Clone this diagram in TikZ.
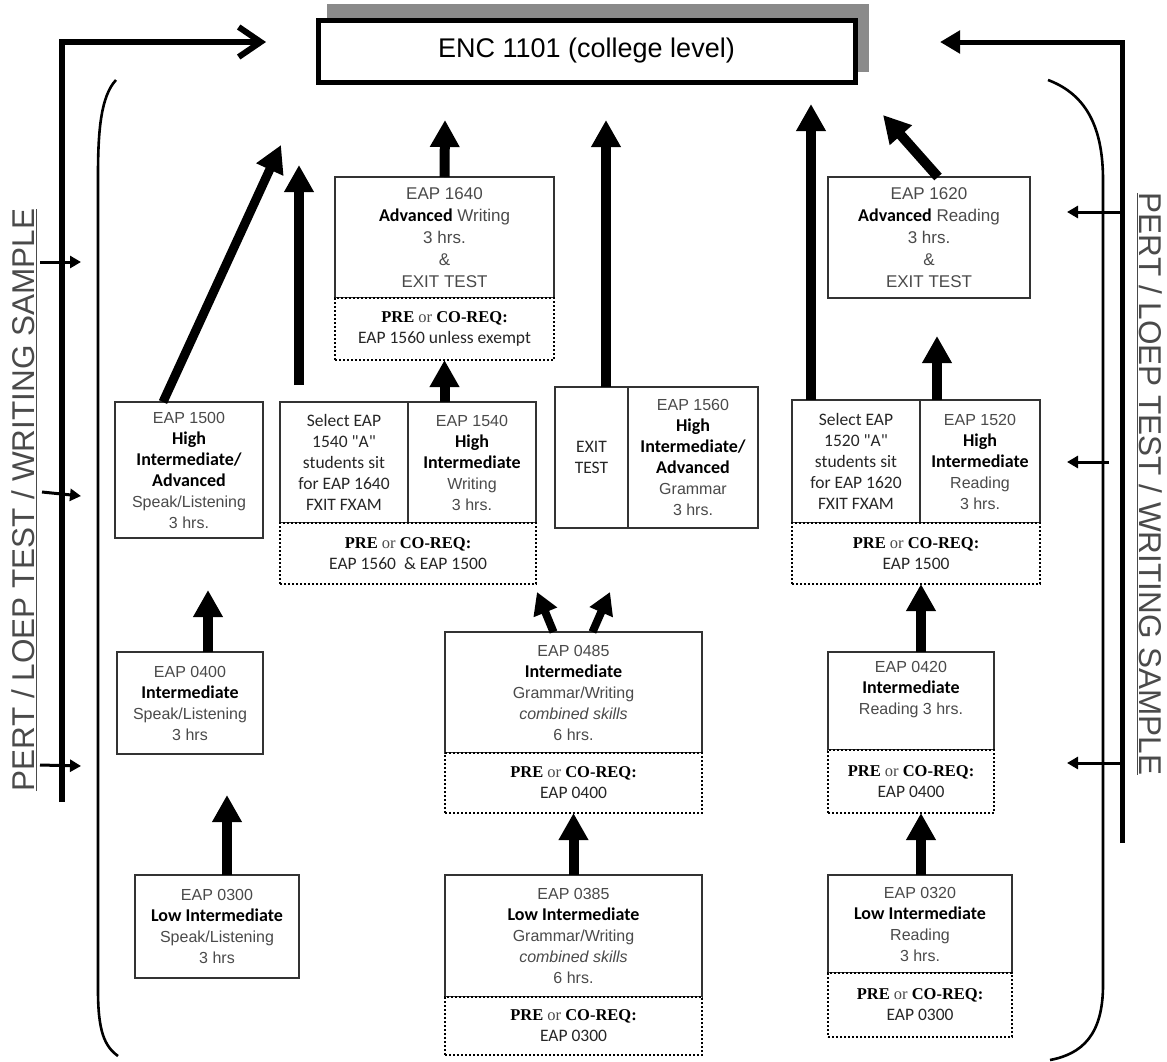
\documentclass[tikz,border=0pt]{standalone}
\usepackage{fontspec}
\setmainfont{Liberation Sans}
\newfontfamily\calib{Carlito}
\newfontfamily\cambr{Liberation Serif}
\usetikzlibrary{arrows.meta}
\definecolor{txt}{HTML}{4A4A4A}
\definecolor{bord}{HTML}{333333}
\definecolor{shadowgray}{HTML}{8A8A8A}
\newcommand\hb[1]{{\calib\bfseries\fontsize{18}{21}\selectfont\color{black}#1}}
\newcommand\cb[1]{{\calib\fontsize{17.5}{21}\selectfont\color{black!85}#1}}
\newcommand\preco{{\cambr\fontsize{16.5}{21}\selectfont\color{black}\textbf{PRE} {\color{txt}or} \textbf{CO-REQ:}}}
\begin{document}
\begin{tikzpicture}[x=1pt,y=-1pt,
  box/.style={draw=bord, line width=1.3pt, inner sep=0pt, outer sep=0pt, align=center, text=txt, fill=white, font=\fontsize{16}{21}\selectfont},
  bigbox/.style={box, font=\fontsize{17}{22}\selectfont},
  dbox/.style={box, draw=black, line width=2pt, dash pattern=on 2pt off 2pt},
  bigarr/.style={line width=10pt, -{Triangle[length=27pt,width=28pt]}},
  midarr/.style={line width=8pt, -{Triangle[length=22pt,width=24pt]}},
  smallarr/.style={line width=3pt, -{Triangle[length=11pt,width=12pt]}},
  bracket/.style={line width=2.6pt},
  side/.style={text=txt, font=\fontsize{31.5}{36}\selectfont, inner sep=0pt}
]
\useasboundingbox (0,0) rectangle (1167,1061);

% ---------- ENC box ----------
\fill[shadowgray] (327,4) rectangle (869,72);
\node[draw=black, line width=5pt, fill=white, minimum width=537pt, minimum height=62pt, inner sep=0pt,
      font=\fontsize{27}{30}\selectfont] (enc) at (586.5,51) {ENC 1101 (college level)};

% ---------- left column ----------
\node[box, minimum width=148pt, minimum height=136pt] (n1500) at (189,470)
  {EAP 1500\\\hb{High}\\\hb{Intermediate/}\\\hb{Advanced}\\Speak/Listening\\3 hrs.};
\node[box, minimum width=146pt, minimum height=102pt] (n0400) at (190,703)
  {EAP 0400\\\hb{Intermediate}\\Speak/Listening\\3 hrs};
\node[box, minimum width=164pt, minimum height=103pt] (n0300) at (217,926.5)
  {EAP 0300\\\hb{Low Intermediate}\\Speak/Listening\\3 hrs};

% ---------- EAP 1540 ----------
\node[box, minimum width=128pt, minimum height=121pt] (n1540L) at (344,462.5)
  {\cb{Select EAP}\\\cb{1540 "A"}\\\cb{students sit}\\\cb{for EAP 1640}\\\cb{FXIT FXAM}};
\node[box, minimum width=128pt, minimum height=121pt] (n1540R) at (472,462.5)
  {EAP 1540\\\hb{High}\\\hb{Intermediate}\\Writing\\3 hrs.};
\node[dbox, minimum width=256pt, minimum height=61pt] (n1540P) at (408,553.5)
  {\preco\\\cb{EAP 1560\ \ \& EAP 1500}};

% ---------- EAP 1640 ----------
\node[bigbox, minimum width=219pt, minimum height=121pt] (n1640) at (444.5,237.5)
  {EAP 1640\\\hb{Advanced} Writing\\3 hrs.\\\&\\EXIT TEST};
\node[dbox, minimum width=219pt, minimum height=62pt] (n1640P) at (444.5,329)
  {\preco\\\cb{EAP 1560 unless exempt}};

% ---------- EAP 1560 ----------
\node[box, minimum width=73pt, minimum height=141pt] (n1560L) at (591.5,457.5)
  {\cb{EXIT}\\\cb{TEST}};
\node[box, minimum width=130pt, minimum height=141pt] (n1560R) at (693,457.5)
  {EAP 1560\\\hb{High}\\\hb{Intermediate/}\\\hb{Advanced}\\Grammar\\3 hrs.};

% ---------- EAP 0485 / 0385 ----------
\node[box, minimum width=257pt, minimum height=121pt] (n0485) at (573.5,692.5)
  {EAP 0485\\\hb{Intermediate}\\Grammar/Writing\\\textit{combined skills}\\6 hrs.};
\node[dbox, minimum width=257pt, minimum height=60pt] (n0485P) at (573.5,783)
  {\preco\\\cb{EAP 0400}};
\node[box, minimum width=257pt, minimum height=122pt] (n0385) at (573.5,936)
  {EAP 0385\\\hb{Low Intermediate}\\Grammar/Writing\\\textit{combined skills}\\6 hrs.};
\node[dbox, minimum width=257pt, minimum height=58pt] (n0385P) at (573.5,1026)
  {\preco\\\cb{EAP 0300}};

% ---------- EAP 1620 ----------
\node[bigbox, minimum width=202pt, minimum height=121pt] (n1620) at (929,237.5)
  {EAP 1620\\\hb{Advanced} Reading\\3 hrs.\\\&\\EXIT TEST};

% ---------- EAP 1520 ----------
\node[box, minimum width=128pt, minimum height=123pt] (n1520L) at (856,461.5)
  {\cb{Select EAP}\\\cb{1520 "A"}\\\cb{students sit}\\\cb{for EAP 1620}\\\cb{FXIT FXAM}};
\node[box, minimum width=120pt, minimum height=123pt] (n1520R) at (980,461.5)
  {EAP 1520\\\hb{High}\\\hb{Intermediate}\\Reading\\3 hrs.};
\node[dbox, minimum width=248pt, minimum height=61pt] (n1520P) at (916,553.5)
  {\preco\\\cb{EAP 1500}};

% ---------- EAP 0420 / 0320 ----------
\node[box, minimum width=166pt, minimum height=98pt] (n0420) at (911,701)
  {EAP 0420\\\hb{Intermediate}\\Reading 3 hrs.\\[6pt]};
\node[dbox, minimum width=166pt, minimum height=63pt] (n0420P) at (911,781.5)
  {\preco\\\cb{EAP 0400}};
\node[box, minimum width=184pt, minimum height=98pt] (n0320) at (920,924)
  {EAP 0320\\\hb{Low Intermediate}\\Reading\\3 hrs.};
\node[dbox, minimum width=184pt, minimum height=64pt] (n0320P) at (920,1005)
  {\preco\\\cb{EAP 0300}};

% ---------- arrow targets ----------
\coordinate (t1) at (227,795);
\coordinate (t2) at (208,590);
\coordinate (t3) at (281,145);
\coordinate (s4) at (299,385);
\coordinate (t4) at (299,165);
\coordinate (t6) at (445,120);
\coordinate (t7) at (606,120);
\coordinate (t8) at (811,104);
\coordinate (t9) at (937,336);
\coordinate (t10) at (883,115);
\coordinate (t11) at (537,592);
\coordinate (t12) at (610,592);
\coordinate (t14) at (921,584);

% ---------- arrows ----------
\draw[bigarr] (n0300.north -| t1) -- (t1);
\draw[bigarr] (n0400.north -| t2) -- (t2);
\draw[line width=9pt, -{Triangle[length=27pt,width=28pt]}] ([xshift=-26pt]n1500.north) -- (t3);
\draw[bigarr] (s4) -- (t4);
\draw[bigarr] (n1540R.north -| n1640P.south) -- (n1640P.south);
\draw[bigarr] (n1640.north) -- (t6);
\draw[bigarr] (n1560L.north -| t7) -- (t7);
\draw[bigarr] (n1520L.north -| t8) -- (t8);
\draw[bigarr] (n1520R.north -| t9) -- (t9);
\draw[line width=10pt, -{Triangle[length=27pt,width=28pt]}] ([xshift=9pt]n1620.north) -- (t10);
\draw[midarr] ([xshift=-20pt]n0485.north) -- (t11);
\draw[midarr] ([xshift=19pt]n0485.north) -- (t12);
\draw[bigarr] (n0385.north) -- (n0485P.south);
\draw[bigarr] (n0420.north -| t14) -- (t14);
\draw[bigarr] (n0320.north -| t14) -- (n0420P.south -| t14);

% ---------- left side ----------
\coordinate (lb) at (62,802);
\coordinate (ltip) at (266,42);
\draw[line width=6pt, -{Straight Barb[length=22pt,width=30pt]}] (lb) |- (ltip);
\draw[bracket] (116,80) .. controls (101,96) and (98,130) .. (98,175) -- (98,990) .. controls (98,1030) and (104,1046) .. (118,1056);
\coordinate (la1) at (40,262); \coordinate (la1t) at (81,262);
\coordinate (la2) at (42,492); \coordinate (la2t) at (81,496);
\coordinate (la3) at (40,765); \coordinate (la3t) at (81,766);
\draw[smallarr] (la1) -- (la1t);
\draw[smallarr] (la2) -- (la2t);
\draw[smallarr] (la3) -- (la3t);
\node[side, rotate=90, anchor=base] (ltext) at (34,500) {\underline{PERT / LOEP TEST / WRITING SAMPLE}};

% ---------- right side ----------
\coordinate (rb) at (1122,843);
\coordinate (rtip) at (940,42);
\draw[line width=5pt, -{Triangle[length=20pt,width=22pt]}] (rb) |- (rtip);
\draw[bracket] (1048,80) .. controls (1088,95) and (1103,130) .. (1103,180) -- (1103,985) .. controls (1103,1035) and (1082,1054) .. (1050,1060);
\coordinate (ra1) at (1122,212); \coordinate (ra1t) at (1067,212);
\coordinate (ra2) at (1109,462); \coordinate (ra2t) at (1067,462);
\coordinate (ra3) at (1122,763); \coordinate (ra3t) at (1067,763);
\draw[smallarr] (ra1) -- (ra1t);
\draw[smallarr] (ra2) -- (ra2t);
\draw[smallarr] (ra3) -- (ra3t);
\node[side, rotate=-90, anchor=base] (rtext) at (1139,484) {\underline{PERT / LOEP TEST / WRITING SAMPLE}};
\end{tikzpicture}
\end{document}
